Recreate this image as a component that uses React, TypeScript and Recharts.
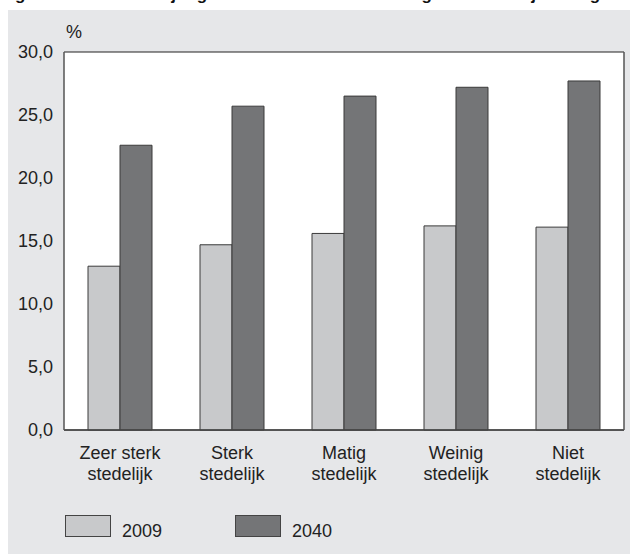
import React from 'react';
import { BarChart, Bar, XAxis, YAxis, CartesianGrid } from 'recharts';

const categories = ['Zeer sterk\nstedelijk', 'Sterk\nstedelijk', 'Matig\nstedelijk', 'Weinig\nstedelijk', 'Niet\nstedelijk'];
const values2009 = [13.0, 14.7, 15.6, 16.2, 16.1];
const values2040 = [22.6, 25.7, 26.5, 27.2, 27.7];
const yTicks = [0, 5, 10, 15, 20, 25, 30];
const seriesNames = ['2009', '2040'];
const titleText = 'Figuur 1. Aandeel 65-jarigen en ouder in de bevolking naar stedelijkheidsgraad van de gemeente, 2009 en 2040';

const data = categories.map((c, i) => ({ cat: c, v2009: values2009[i], v2040: values2040[i] }));

const FONT = '"Liberation Sans", Arial, sans-serif';
const LIGHT = '#c8c9cb';
const DARK = '#747577';

const CatTick = (props: any) => {
  const { x, y, payload } = props;
  const lines = String(payload.value).split('\n');
  return (
    <g>
      {lines.map((l, i) => (
        <text key={i} x={x} y={y + 21 + i * 21} textAnchor="middle" fontSize={18} fill="#222" fontFamily={FONT}>
          {l}
        </text>
      ))}
    </g>
  );
};

const fmt = (v: number) => v.toFixed(1).replace('.', ',');

export default function App() {
  return (
    <div style={{ position: 'fixed', left: 0, top: 0, width: 630, height: 554, background: '#fff', overflow: 'hidden', fontFamily: FONT }}>
      <div
        style={{
          position: 'absolute', left: 0, top: -14, width: 630, whiteSpace: 'nowrap', overflow: 'hidden',
          fontSize: 17, lineHeight: '17px', fontWeight: 'bold', color: '#111',
        }}
      >
        {titleText}
      </div>
      <div style={{ position: 'absolute', left: 8, top: 10, right: 0, bottom: 0, background: '#e6e7e9' }} />
      <div style={{ position: 'absolute', left: 0, top: 0 }}>
        <BarChart
          width={630}
          height={554}
          data={data}
          margin={{ top: 52, right: 0, bottom: 64, left: 0 }}
          barCategoryGap={24}
          barGap={0}
        >
          <CartesianGrid vertical={false} stroke="#222" strokeWidth={1.2} fill="#ffffff" fillOpacity={1} />
          <XAxis
            dataKey="cat"
            height={60}
            tickLine={false}
            axisLine={{ stroke: '#444', strokeWidth: 1.5 }}
            tick={<CatTick />}
            interval={0}
          />
          <YAxis
            yAxisId="left"
            width={64}
            domain={[0, 30]}
            ticks={yTicks}
            tickFormatter={fmt}
            tickLine={false}
            tickMargin={5}
            axisLine={{ stroke: '#555', strokeWidth: 1.5 }}
            tick={{ fontSize: 18, fill: '#222', fontFamily: FONT }}
          />
          <YAxis
            yAxisId="right"
            orientation="right"
            width={6}
            domain={[0, 30]}
            ticks={yTicks}
            tick={false}
            tickLine={false}
            axisLine={{ stroke: '#555', strokeWidth: 1.5 }}
          />
          <Bar yAxisId="left" dataKey="v2009" name={seriesNames[0]} fill={LIGHT} stroke="#3a3a3a" strokeWidth={1} isAnimationActive={false} />
          <Bar yAxisId="left" dataKey="v2040" name={seriesNames[1]} fill={DARK} stroke="#3a3a3a" strokeWidth={1} isAnimationActive={false} />
        </BarChart>
      </div>
      <div style={{ position: 'absolute', left: 66, top: 22, fontSize: 18, lineHeight: '20px', color: '#222' }}>%</div>
      <div style={{ position: 'absolute', left: 65, top: 515, width: 46, height: 22, background: LIGHT, border: '1px solid #444', boxSizing: 'border-box' }} />
      <div style={{ position: 'absolute', left: 122, top: 521, fontSize: 18, lineHeight: '20px', color: '#222' }}>{seriesNames[0]}</div>
      <div style={{ position: 'absolute', left: 235, top: 515, width: 46, height: 22, background: DARK, border: '1px solid #444', boxSizing: 'border-box' }} />
      <div style={{ position: 'absolute', left: 292, top: 521, fontSize: 18, lineHeight: '20px', color: '#222' }}>{seriesNames[1]}</div>
    </div>
  );
}
